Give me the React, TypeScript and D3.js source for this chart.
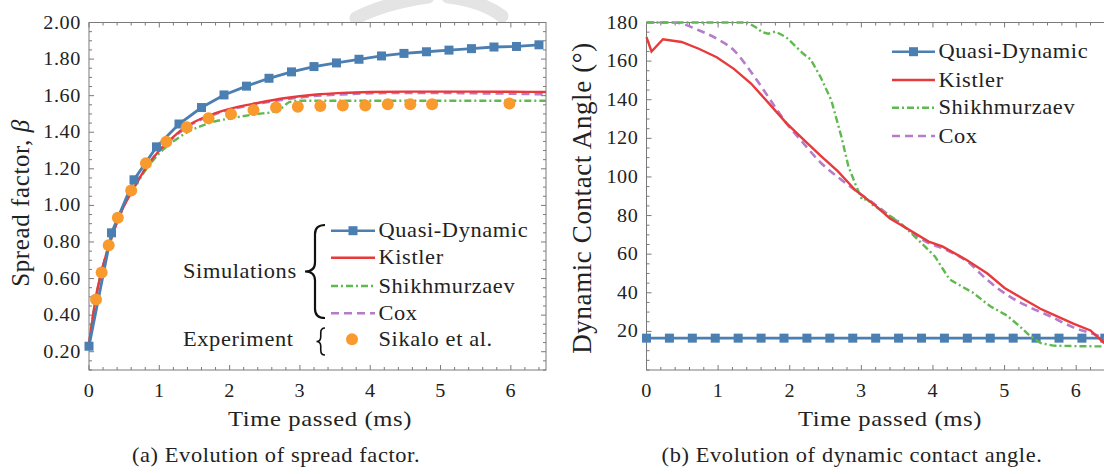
import React from "react";
import * as d3 from "d3";

// ---------- DATA (left panel: spread factor) ----------
const quasiTime = [0, 0.32, 0.64, 0.96, 1.28, 1.6, 1.92, 2.24, 2.56, 2.88, 3.2, 3.52, 3.84, 4.16, 4.48, 4.8, 5.12, 5.44, 5.76, 6.08, 6.4];
const quasiSpread = [0.23, 0.85, 1.14, 1.32, 1.445, 1.535, 1.604, 1.652, 1.695, 1.73, 1.759, 1.779, 1.799, 1.817, 1.831, 1.84, 1.849, 1.857, 1.866, 1.869, 1.878];

const simTime = [0, 0.1, 0.2, 0.3, 0.4, 0.5, 0.6, 0.8, 1.0, 1.2, 1.4, 1.6, 1.8, 2.0, 2.4, 2.8, 3.2, 3.6, 4.0, 4.5, 5.0, 5.5, 6.0, 6.5];
const kistlerSpread = [0.24, 0.5, 0.67, 0.8, 0.91, 1.0, 1.07, 1.2, 1.3, 1.375, 1.435, 1.475, 1.505, 1.528, 1.56, 1.587, 1.605, 1.615, 1.62, 1.622, 1.622, 1.622, 1.621, 1.62];
const coxSpread = [0.24, 0.5, 0.67, 0.8, 0.91, 1.0, 1.07, 1.2, 1.3, 1.37, 1.43, 1.47, 1.5, 1.523, 1.555, 1.58, 1.598, 1.607, 1.613, 1.615, 1.615, 1.613, 1.611, 1.607];

const shikhSpreadTime = [0, 0.1, 0.2, 0.3, 0.4, 0.5, 0.6, 0.8, 1.0, 1.2, 1.4, 1.6, 1.8, 2.0, 2.4, 2.6, 2.75, 2.85, 3.0, 4.0, 5.0, 6.0, 6.5];
const shikhSpread = [0.24, 0.5, 0.67, 0.8, 0.91, 1.0, 1.07, 1.19, 1.285, 1.35, 1.4, 1.435, 1.46, 1.475, 1.5, 1.51, 1.535, 1.565, 1.572, 1.572, 1.572, 1.572, 1.572];

const sikaloTime = [0.1, 0.18, 0.28, 0.41, 0.6, 0.81, 1.1, 1.39, 1.7, 2.02, 2.34, 2.66, 2.97, 3.29, 3.61, 3.93, 4.25, 4.57, 4.88, 5.98];
const sikaloSpread = [0.485, 0.633, 0.782, 0.933, 1.082, 1.23, 1.348, 1.427, 1.476, 1.499, 1.521, 1.535, 1.539, 1.543, 1.546, 1.546, 1.553, 1.553, 1.553, 1.557];

// ---------- DATA (right panel: dynamic contact angle) ----------
const quasiAngle = [16.5, 16.5, 16.5, 16.5, 16.5, 16.5, 16.5, 16.5, 16.5, 16.5, 16.5, 16.5, 16.5, 16.5, 16.5, 16.5, 16.5, 16.5, 16.5, 16.5, 16.5];

const kistlerAngleTime = [0, 0.07, 0.23, 0.49, 0.73, 0.98, 1.22, 1.46, 1.7, 1.95, 2.19, 2.43, 2.67, 2.92, 3.2, 3.4, 3.65, 3.94, 4.13, 4.47, 4.76, 5.0, 5.25, 5.5, 5.75, 5.96, 6.2, 6.38, 6.5];
const kistlerAngle = [172.4, 165, 171.3, 169.9, 166.4, 162, 156, 148.4, 138.5, 128, 119.5, 111, 103, 93, 85, 78.5, 73, 66.5, 64, 57, 50, 42.5, 37, 31.7, 27.5, 24, 20.5, 14.3, 12.5];

const coxAngleTime = [0, 0.39, 0.73, 0.98, 1.22, 1.46, 1.7, 1.95, 2.19, 2.43, 2.67, 2.92, 3.2, 3.5, 3.9, 4.2, 4.47, 4.76, 5.03, 5.34, 5.6, 5.96, 6.29, 6.5];
const coxAngle = [180, 180, 176, 171.6, 165.6, 154.4, 141.5, 128, 117.5, 107.5, 100, 93, 85.5, 77, 66.5, 62, 56.5, 46.6, 39, 32.7, 28.5, 22.1, 18, 15];

const shikhAngleTime = [0, 1.41, 1.55, 1.61, 1.7, 1.8, 1.95, 2.19, 2.29, 2.43, 2.58, 2.72, 2.82, 2.92, 3.01, 3.08, 3.16, 3.35, 3.52, 3.65, 3.89, 4.03, 4.23, 4.37, 4.56, 4.8, 5.03, 5.2, 5.35, 5.5, 5.68, 6.07, 6.5];
const shikhAngle = [180, 180, 177, 175, 174.2, 175.3, 172.4, 163.8, 161, 151.8, 139.8, 121, 105.4, 96, 88.2, 88.5, 85.5, 81, 76.9, 72.5, 63.9, 58.7, 47, 44, 40, 33, 28.3, 23, 17.8, 14, 12.6, 12.3, 12.2];

const xTickLabels = [0, 1, 2, 3, 4, 5, 6];
const spreadTickLabels = [0.2, 0.4, 0.6, 0.8, 1.0, 1.2, 1.4, 1.6, 1.8, 2.0];
const angleTickLabels = [20, 40, 60, 80, 100, 120, 140, 160, 180];

const seriesNames = ["Quasi-Dynamic", "Kistler", "Shikhmurzaev", "Cox"];

// ---------- STYLE ----------
const C = {
  blue: "#4b7fb1",
  red: "#e8393b",
  green: "#5fb94e",
  purple: "#b67bca",
  orange: "#f99a2f",
  frame: "#7a7a7a",
  text: "#222",
};
const FONT = "Liberation Serif, Times New Roman, serif";
const SX = 1.12;

function T({ x, y, anchor = "start", size = 20, sx = SX, ls = 0.55, children }: any) {
  return (
    <text
      transform={`translate(${x},${y}) scale(${sx},1)`}
      textAnchor={anchor}
      style={{ fontFamily: FONT, fontSize: size, letterSpacing: ls }}
      fill={C.text}
    >
      {children}
    </text>
  );
}

function brace(xTip: number, xArm: number, y1: number, y2: number) {
  const ym = (y1 + y2) / 2;
  const xm = (xTip + xArm) / 2;
  const h = (y2 - y1) / 2;
  const r = Math.min(h * 0.35, 9);
  return `M${xArm},${y1} Q${xm},${y1} ${xm},${y1 + r} L${xm},${ym - r} Q${xm},${ym} ${xTip},${ym} Q${xm},${ym} ${xm},${ym + r} L${xm},${y2 - r} Q${xm},${y2} ${xArm},${y2}`;
}

function Frame({ x, y, xMinor, xMajor, yMinor, yMajor }: any) {
  const [x0, x1] = x.range();
  const [y1, y0] = y.range();
  const els: any[] = [];
  xMinor.forEach((v: number, i: number) => {
    const px = x(v);
    const major = xMajor.some((m: number) => Math.abs(m - v) < 1e-6);
    const L = major ? 5 : 3;
    els.push(<line key={"xb" + i} x1={px} x2={px} y1={y1} y2={y1 - L} />);
    els.push(<line key={"xt" + i} x1={px} x2={px} y1={y0} y2={y0 + L} />);
  });
  yMinor.forEach((v: number, i: number) => {
    const py = y(v);
    const major = yMajor.some((m: number) => Math.abs(m - v) < 1e-6);
    const L = major ? 5 : 3;
    els.push(<line key={"yl" + i} x1={x0} x2={x0 + L} y1={py} y2={py} />);
    els.push(<line key={"yr" + i} x1={x1} x2={x1 - L} y1={py} y2={py} />);
  });
  return (
    <g stroke={C.frame} strokeWidth={1} fill="none">
      {els}
      <rect x={x0} y={y0} width={x1 - x0} height={y1 - y0} />
    </g>
  );
}

export default function App() {
  // Left panel scales
  const xL = d3.scaleLinear().domain([0, 6.5]).range([89, 546]);
  const yL = d3.scaleLinear().domain([0.1, 2.0]).range([370, 22.5]);
  // Right panel scales
  const xR = d3.scaleLinear().domain([0, 6.5]).range([646.5, 1112]);
  const yR = d3.scaleLinear().domain([0, 180]).range([370, 22.5]);

  const lineL = (ts: number[], vs: number[], curve: any = d3.curveMonotoneX) =>
    d3.line<number>().x((_, i) => xL(ts[i])).y((v) => yL(v)).curve(curve)(vs) as string;
  const lineR = (ts: number[], vs: number[], curve: any = d3.curveLinear) =>
    d3.line<number>().x((_, i) => xR(ts[i])).y((v) => yR(v)).curve(curve)(vs) as string;

  const xMinor = d3.range(0, 6.5 + 1e-9, 0.2);
  const spreadMinor = d3.range(0.1, 2.0 + 1e-9, 0.05);
  const angleMinor = d3.range(0, 180 + 1e-9, 5);

  const legL = [230.7, 257.7, 286, 313.3, 339.3];
  const legR = [51.7, 80, 107.7, 136];
  const sq = 9;

  const legendSwatch = (i: number, x1: number, x2: number, y: number) => {
    if (i === 0)
      return (
        <g key={"s" + i}>
          <line x1={x1} x2={x2} y1={y} y2={y} stroke={C.blue} strokeWidth={2.6} />
          <rect x={(x1 + x2) / 2 - sq / 2} y={y - sq / 2} width={sq} height={sq} fill={C.blue} />
        </g>
      );
    if (i === 1) return <line key={"s" + i} x1={x1} x2={x2} y1={y} y2={y} stroke={C.red} strokeWidth={2.4} />;
    if (i === 2)
      return <line key={"s" + i} x1={x1} x2={x2} y1={y} y2={y} stroke={C.green} strokeWidth={2.4} strokeDasharray="7,3,2,3" />;
    return <line key={"s" + i} x1={x1} x2={x2} y1={y} y2={y} stroke={C.purple} strokeWidth={2.6} strokeDasharray="8,5" />;
  };

  return (
    <svg width={1104} height={474} style={{ display: "block", position: "absolute", left: 0, top: 0 }}>
      <rect width={1104} height={474} fill="#fff" />
      {/* faint watermark */}
      <g stroke="#e4e4e4" strokeWidth={13} fill="none" strokeLinecap="round">
        <path d="M356,18 Q385,3 428,-3" />
        <path d="M448,-3 Q482,1 502,16" />
      </g>

      {/* ===== LEFT PANEL ===== */}
      <rect x={89} y={22.5} width={457} height={347.5} fill="#fff" />
      <Frame x={xL} y={yL} xMinor={xMinor} xMajor={xTickLabels} yMinor={spreadMinor} yMajor={spreadTickLabels} />
      <path d={lineL(simTime, coxSpread)} fill="none" stroke={C.purple} strokeWidth={2.6} strokeDasharray="8,5" />
      <path d={lineL(shikhSpreadTime, shikhSpread)} fill="none" stroke={C.green} strokeWidth={2.4} strokeDasharray="7,3,2,3" />
      <path d={lineL(simTime, kistlerSpread)} fill="none" stroke={C.red} strokeWidth={2.4} />
      <path d={lineL(quasiTime, quasiSpread, d3.curveLinear)} fill="none" stroke={C.blue} strokeWidth={2.8} />
      {quasiSpread.map((v, i) => (
        <rect key={"qs" + i} x={xL(quasiTime[i]) - sq / 2} y={yL(v) - sq / 2} width={sq} height={sq} fill={C.blue} />
      ))}
      {sikaloSpread.map((v, i) => (
        <circle key={"sk" + i} cx={xL(sikaloTime[i])} cy={yL(v)} r={6} fill={C.orange} />
      ))}
      {xTickLabels.map((v) => (
        <T key={"xl" + v} x={xL(v)} y={396.5} anchor="middle" size={18}>{v}</T>
      ))}
      {spreadTickLabels.map((v) => (
        <T key={"yl" + v} x={81} y={yL(v) + 6} anchor="end" size={18}>{d3.format(".2f")(v)}</T>
      ))}
      <T x={320} y={425.5} anchor="middle" size={22}>Time passed (ms)</T>
      <text transform={`translate(29,203) rotate(-90)`} textAnchor="middle" style={{ fontFamily: FONT, fontSize: 25, letterSpacing: 0.6 }} fill={C.text}>
        Spread factor, <tspan fontStyle="italic">β</tspan>
      </text>
      <T x={276} y={462} anchor="middle" size={20}>(a) Evolution of spread factor.</T>

      {/* left legend */}
      {seriesNames.map((n, i) => (
        <g key={"ll" + i}>
          {legendSwatch(i, 331, 375, legL[i])}
          <T x={378.5} y={legL[i] + 6.5} size={20}>{n}</T>
        </g>
      ))}
      <circle cx={352} cy={legL[4]} r={6} fill={C.orange} />
      <T x={378.5} y={legL[4] + 6.5} size={20}>Sikalo et al.</T>
      <T x={183} y={277.5} size={20}>Simulations</T>
      <T x={183} y={346} size={20}>Experiment</T>
      <path d={brace(305, 325, 225, 318)} fill="none" stroke="#111" strokeWidth={2.2} />
      <path d={brace(316.5, 325, 328, 355)} fill="none" stroke="#111" strokeWidth={1.6} />

      {/* ===== RIGHT PANEL ===== */}
      <Frame x={xR} y={yR} xMinor={xMinor} xMajor={xTickLabels} yMinor={angleMinor} yMajor={angleTickLabels} />
      <path d={lineR(quasiTime, quasiAngle)} fill="none" stroke={C.blue} strokeWidth={2.8} />
      {quasiAngle.map((v, i) => (
        <rect key={"qa" + i} x={xR(quasiTime[i]) - sq / 2} y={yR(v) - sq / 2} width={sq} height={sq} fill={C.blue} />
      ))}
      <path d={lineR(coxAngleTime, coxAngle, d3.curveMonotoneX)} fill="none" stroke={C.purple} strokeWidth={2.6} strokeDasharray="8,5" />
      <path d={lineR(shikhAngleTime, shikhAngle)} fill="none" stroke={C.green} strokeWidth={2.4} strokeDasharray="7,3,2,3" />
      <path d={lineR(kistlerAngleTime, kistlerAngle)} fill="none" stroke={C.red} strokeWidth={2.4} />
      {xTickLabels.map((v) => (
        <T key={"xr" + v} x={xR(v)} y={396.5} anchor="middle" size={18}>{v}</T>
      ))}
      {angleTickLabels.map((v) => (
        <T key={"yr" + v} x={638.5} y={yR(v) + 6} anchor="end" size={18}>{v}</T>
      ))}
      <T x={890} y={425.5} anchor="middle" size={22}>Time passed (ms)</T>
      <text transform={`translate(591,198) rotate(-90)`} textAnchor="middle" style={{ fontFamily: FONT, fontSize: 27, letterSpacing: 0.6 }} fill={C.text}>
        Dynamic Contact Angle (°)
      </text>
      <T x={852} y={462} anchor="middle" size={20}>(b) Evolution of dynamic contact angle.</T>

      {/* right legend */}
      {seriesNames.map((n, i) => (
        <g key={"rl" + i}>
          {legendSwatch(i, 892, 935, legR[i])}
          <T x={938.5} y={legR[i] + 6.5} size={20}>{n}</T>
        </g>
      ))}
    </svg>
  );
}
